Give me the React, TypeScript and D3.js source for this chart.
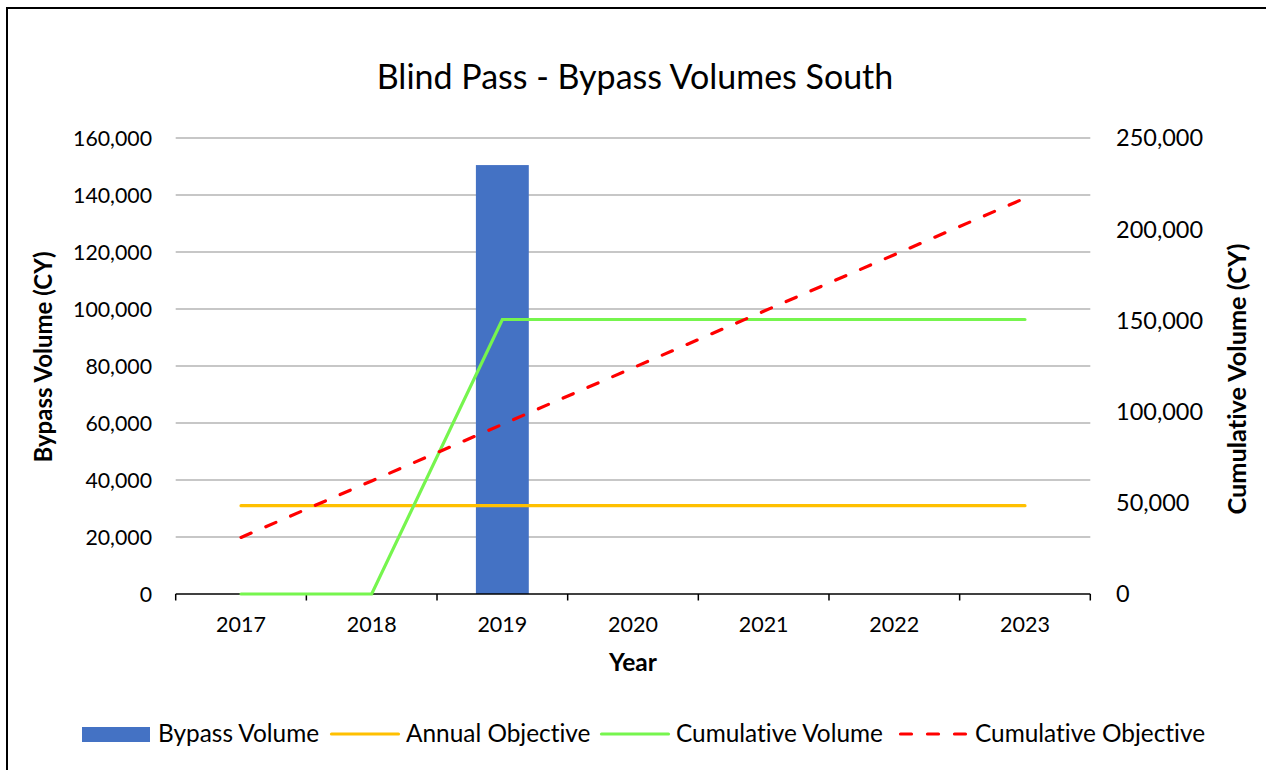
import React from "react";
import * as d3 from "d3";

const years = ["2017", "2018", "2019", "2020", "2021", "2022", "2023"];
const bypassVolume = [0, 0, 150500, 0, 0, 0, 0];
const annualObjective = [31000, 31000, 31000, 31000, 31000, 31000, 31000];
const cumulativeVolume = [0, 0, 150500, 150500, 150500, 150500, 150500];
const cumulativeObjective = [31000, 62000, 93000, 124000, 155000, 186000, 217000];
const leftTicks = [0, 20000, 40000, 60000, 80000, 100000, 120000, 140000, 160000];
const rightTicks = [0, 50000, 100000, 150000, 200000, 250000];

const FONT = "Lato, 'Noto Sans', sans-serif";
const W = 1266;
const H = 770;

export default function App() {
  const x = d3.scaleBand<string>().domain(years).range([175.7, 1090.3]).padding(0);
  const yL = d3.scaleLinear().domain([0, 160000]).range([594, 138]);
  const yR = d3.scaleLinear().domain([0, 250000]).range([594, 138]);
  const bw = x.bandwidth();
  const barW = bw / 2.47;
  const cx = (i: number) => (x(years[i]) as number) + bw / 2;
  const fmt = d3.format(",");

  const lineL = d3.line<number>().x((_, i) => cx(i)).y((d) => yL(d));
  const lineR = d3.line<number>().x((_, i) => cx(i)).y((d) => yR(d));

  const boundaries = [...years.map((y) => x(y) as number), 1090.3];

  const legend = [
    { label: "Bypass Volume", kind: "rect", color: "#4472C4", x0: 82 },
    { label: "Annual Objective", kind: "line", color: "#FFC000", x0: 330 },
    { label: "Cumulative Volume", kind: "line", color: "#76F54E", x0: 600 },
    { label: "Cumulative Objective", kind: "dash", color: "#FF0000", x0: 899 },
  ];

  return (
    <svg
      width={W}
      height={H}
      style={{
        position: "absolute",
        left: 0,
        top: 0,
        background: "#fff",
        fontVariantLigatures: "none",
        fontFeatureSettings: '"liga" 0',
      }}
      fontFamily={FONT}
    >
      <rect x={0} y={0} width={W} height={H} fill="#fff" />
      <rect x={7} y={8} width={W + 40} height={H + 40} fill="none" stroke="#000" strokeWidth={2} />

      <text x={635} y={89} textAnchor="middle" fontSize={34} fill="#000">
        Blind Pass - Bypass Volumes South
      </text>

      {/* gridlines */}
      {leftTicks.slice(1).map((t) => (
        <line key={t} x1={175.7} x2={1090.3} y1={yL(t)} y2={yL(t)} stroke="#b4b4b4" strokeWidth={1.5} />
      ))}

      {/* left tick labels */}
      {leftTicks.map((t) => (
        <text key={t} x={152} y={yL(t)} dy="0.36em" textAnchor="end" fontSize={21.3} fill="#000">
          {fmt(t)}
        </text>
      ))}
      {/* right tick labels */}
      {rightTicks.map((t) => (
        <text key={t} x={1116} y={yR(t)} dy="0.36em" textAnchor="start" fontSize={23.5} fill="#000">
          {fmt(t)}
        </text>
      ))}

      {/* bars */}
      {bypassVolume.map((v, i) =>
        v > 0 ? (
          <rect
            key={i}
            x={cx(i) - barW / 2}
            y={yL(v)}
            width={barW}
            height={yL(0) - yL(v)}
            fill="#4472C4"
          />
        ) : null
      )}

      {/* x axis */}
      <line x1={175.7} x2={1090.3} y1={594} y2={594} stroke="#000" strokeWidth={1.5} />
      {boundaries.map((b, i) => (
        <line key={i} x1={b} x2={b} y1={594} y2={600.5} stroke="#000" strokeWidth={1.5} />
      ))}
      {years.map((y, i) => (
        <text key={y} x={cx(i)} y={632} textAnchor="middle" fontSize={21.5} fill="#000">
          {y}
        </text>
      ))}

      {/* lines */}
      <path d={lineL(annualObjective) || ""} fill="none" stroke="#FFC000" strokeWidth={3.2} strokeLinecap="round" />
      <path d={lineR(cumulativeVolume) || ""} fill="none" stroke="#76F54E" strokeWidth={3.2} strokeLinecap="round" />
      <path
        d={lineR(cumulativeObjective) || ""}
        fill="none"
        stroke="#FF0000"
        strokeWidth={3.2}
        strokeLinecap="round"
        strokeDasharray="11 16"
      />

      {/* axis titles */}
      <text
        transform="translate(43,357) rotate(-90)"
        textAnchor="middle"
        dy="0.36em"
        fontSize={24}
        fontWeight="bold"
        fill="#000"
      >
        Bypass Volume (CY)
      </text>
      <text
        transform="translate(1237,379) rotate(-90)"
        textAnchor="middle"
        dy="0.36em"
        fontSize={25.3}
        fontWeight="bold"
        fill="#000"
      >
        Cumulative Volume (CY)
      </text>
      <text x={633} y={671} textAnchor="middle" fontSize={24.5} fontWeight="bold" fill="#000">
        Year
      </text>

      {/* legend */}
      {legend.map((l) => (
        <g key={l.label}>
          {l.kind === "rect" ? (
            <rect x={l.x0} y={727} width={68} height={15} fill={l.color} />
          ) : (
            <line
              x1={l.x0 + 1.5}
              x2={l.x0 + 68.5}
              y1={734}
              y2={734}
              stroke={l.color}
              strokeWidth={3.2}
              strokeLinecap="round"
              strokeDasharray={l.kind === "dash" ? "11 16" : undefined}
            />
          )}
          <text x={l.x0 + 76} y={742} fontSize={24.4} fill="#000">
            {l.label}
          </text>
        </g>
      ))}
    </svg>
  );
}
